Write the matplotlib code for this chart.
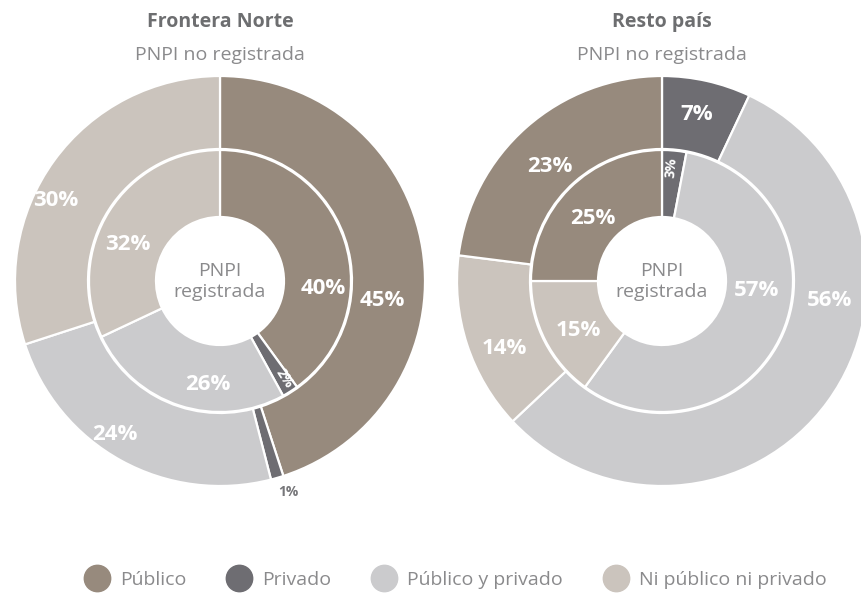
import matplotlib.pyplot as plt
from matplotlib.lines import Line2D

plt.rcParams['font.family'] = ['Open Sans', 'DejaVu Sans']

# ─── Datos ────────────────────────────────────────────────────────────────────
categorias = ["Público", "Privado", "Público y privado", "Ni público ni privado"]
colores = ["#978a7d", "#6e6d72", "#cbcbcd", "#cbc4bd"]

# anillo exterior = PNPI no registrada, anillo interior = PNPI registrada
norte_no_reg = [45, 1, 24, 30]
norte_reg = [40, 2, 26, 32]
resto_no_reg = [23, 7, 56, 14]
resto_reg = [25, 3, 57, 15]

# ─── Layout (pixeles) ─────────────────────────────────────────────────────────
W, H = 861, 594
R_OUT, W_OUT = 205, 73
R_IN, W_IN = 131, 67

# posiciones de etiquetas (x, y desde arriba), mismo orden que categorias
pos_norte_out = [(382, 300), (288, 492), (115, 435), (56, 200)]
pos_norte_in = [(323, 288), (284, 378), (208, 385), (128, 245)]
pos_resto_out = [(550, 166), (697, 115), (830, 300), (504, 348)]
pos_resto_in = [(593, 219), (671, 168), (757, 290), (578, 331)]

fig = plt.figure(figsize=(W / 100, H / 100), dpi=100)
ax = fig.add_axes([0, 0, 1, 1])


def dona(cx, cy, externo, interno, orden, pos_out, pos_in, rot_in):
    centro = (cx, H - cy)
    vals_o = [externo[i] for i in orden]
    vals_i = [interno[i] for i in orden]
    cols = [colores[i] for i in orden]
    ax.pie(vals_o, colors=cols, radius=R_OUT, center=centro, startangle=90,
           counterclock=False,
           wedgeprops=dict(width=W_OUT, edgecolor="white", linewidth=1.6))
    ax.pie(vals_i, colors=cols, radius=R_IN, center=centro, startangle=90,
           counterclock=False,
           wedgeprops=dict(width=W_IN, edgecolor="white", linewidth=1.6))

    for i, (x, y) in enumerate(pos_out):
        small = externo[i] < 3
        ax.text(x, H - y, f"{externo[i]}%", ha="center", va="center",
                fontsize=10 if small else 16, fontweight="bold",
                color="#77777a" if small else "white")
    for i, (x, y) in enumerate(pos_in):
        small = interno[i] < 5
        ax.text(x, H - y, f"{interno[i]}%", ha="center", va="center",
                fontsize=10 if small else 16, fontweight="bold", color="white",
                rotation=rot_in if small else 0)

    ax.text(cx, H - cy + 10, "PNPI", ha="center", va="center",
            fontsize=14, color="#8a8a8c")
    ax.text(cx, H - cy - 11, "registrada", ha="center", va="center",
            fontsize=14, color="#8a8a8c")


dona(220, 281, norte_no_reg, norte_reg, [0, 1, 2, 3],
     pos_norte_out, pos_norte_in, -57)
dona(662, 281, resto_no_reg, resto_reg, [1, 2, 3, 0],
     pos_resto_out, pos_resto_in, 85)

# títulos
for cx, titulo in [(220, "Frontera Norte"), (662, "Resto país")]:
    ax.text(cx, H - 22, titulo, ha="center", va="center", fontsize=14,
            fontweight="bold", color="#6d6e70")
    ax.text(cx, H - 55, "PNPI no registrada", ha="center", va="center",
            fontsize=14, color="#8a8a8c")

ax.set_xlim(0, W)
ax.set_ylim(0, H)
ax.set_aspect("equal")
ax.axis("off")

# leyenda
handles = [Line2D([], [], marker="o", linestyle="", markersize=19,
                  markerfacecolor=c, markeredgecolor=c) for c in colores]
fig.legend(handles, categorias, loc="center", bbox_to_anchor=(456 / W, 1 - 580 / H),
           ncol=4, frameon=False, fontsize=14, labelcolor="#8a8a8c",
           handletextpad=0.6, columnspacing=2.1, handlelength=1.2)

plt.savefig("out.png", dpi=100)
